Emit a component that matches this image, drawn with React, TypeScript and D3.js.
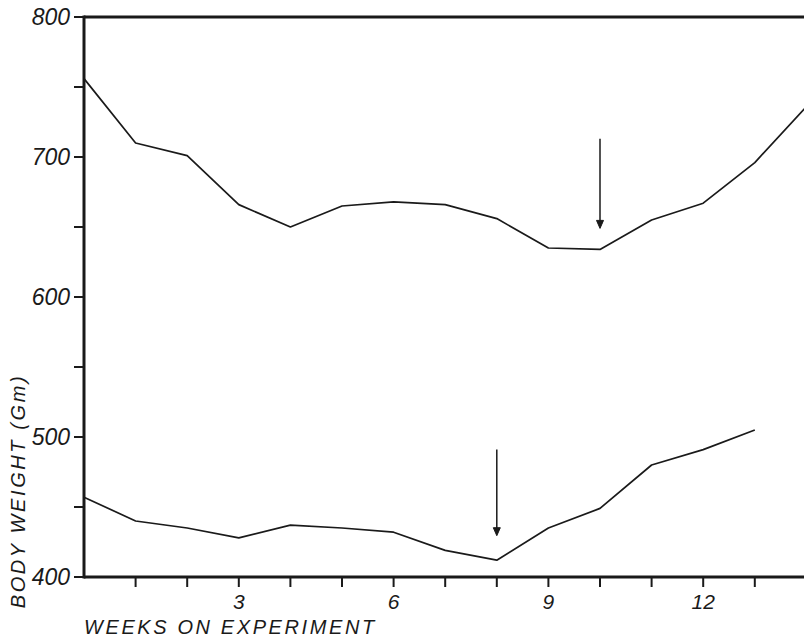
import React from "react";
import * as d3 from "d3";

const upperWeeks = [0, 1, 2, 3, 4, 5, 6, 7, 8, 9, 10, 11, 12, 13, 14];
const upperValues = [756, 710, 701, 666, 650, 665, 668, 666, 656, 635, 634, 655, 667, 696, 736];
const lowerWeeks = [0, 1, 2, 3, 4, 5, 6, 7, 8, 9, 10, 11, 12, 13];
const lowerValues = [457, 440, 435, 428, 437, 435, 432, 419, 412, 435, 449, 480, 491, 505];

const arrowWeeks = [10, 8];
const arrowFrom = [713, 491];
const arrowTo = [649, 429.5];

const yTickValues = [400, 450, 500, 550, 600, 650, 700, 750, 800];
const yTickLabels = ["400", "500", "600", "700", "800"];
const xTickValues = [1, 2, 3, 4, 5, 6, 7, 8, 9, 10, 11, 12, 13, 14];
const xTickLabels = ["3", "6", "9", "12"];

const xTitle = "WEEKS ON EXPERIMENT";
const yTitle = "BODY WEIGHT (Gm)";

export default function App() {
  const W = 804, H = 638;
  const x = d3.scaleLinear().domain([0, 14]).range([84, 806.4]);
  const y = d3.scaleLinear().domain([400, 800]).range([577, 17]);
  const line = d3.line<[number, number]>().x(d => x(d[0])).y(d => y(d[1]));
  const up: [number, number][] = upperWeeks.map((w, i) => [w, upperValues[i]]);
  const lo: [number, number][] = lowerWeeks.map((w, i) => [w, lowerValues[i]]);
  const font = "'Liberation Sans', 'DejaVu Sans', sans-serif";
  const ink = "#1a1a1a";
  return (
    <svg width={W} height={H} style={{ position: "absolute", left: 0, top: 0, background: "#fff" }}>
      {/* frame */}
      <line x1={x(0)} x2={x(14) + 5} y1={y(800)} y2={y(800)} stroke={ink} strokeWidth={3} />
      <line x1={x(0)} x2={x(0)} y1={y(800) - 1.5} y2={y(400) + 1.5} stroke={ink} strokeWidth={3} />
      <line x1={x(0)} x2={x(14) + 5} y1={y(400)} y2={y(400)} stroke={ink} strokeWidth={3} />
      {yTickValues.map(v => (
        <line key={"yt" + v} x1={x(0) - 10} x2={x(0)} y1={y(v)} y2={y(v)} stroke={ink} strokeWidth={2} />
      ))}
      {yTickLabels.map(t => (
        <text key={"yl" + t} x={x(0) - 14} y={y(+t)} dy="0.36em" textAnchor="end"
          fontFamily={font} fontStyle="italic" fontSize={23} fill={ink}>{t}</text>
      ))}
      {xTickValues.map(v => (
        <line key={"xt" + v} x1={x(v)} x2={x(v)} y1={y(400)} y2={y(400) + 10} stroke={ink} strokeWidth={2} />
      ))}
      {xTickLabels.map(t => (
        <text key={"xl" + t} x={x(+t)} y={609} textAnchor="middle"
          fontFamily={font} fontStyle="italic" fontSize={21} fill={ink}>{t}</text>
      ))}
      <text x={x(0)} y={634} fontFamily={font} fontStyle="italic" fontSize={20}
        letterSpacing={2.6} fill={ink}>{xTitle}</text>
      <text transform={`translate(25, 491) rotate(-90)`} textAnchor="middle"
        fontFamily={font} fontStyle="italic" fontSize={20} letterSpacing={2.6} fill={ink}>{yTitle}</text>
      {/* series */}
      <path d={line(up) || ""} fill="none" stroke={ink} strokeWidth={1.7} strokeLinejoin="round" />
      <path d={line(lo) || ""} fill="none" stroke={ink} strokeWidth={1.7} strokeLinejoin="round" />
      {/* arrows */}
      {arrowWeeks.map((w, i) => {
        const ax = x(w), y0 = y(arrowFrom[i]), y1 = y(arrowTo[i]);
        return (
          <g key={"ar" + i}>
            <line x1={ax} x2={ax} y1={y0} y2={y1 - 2} stroke={ink} strokeWidth={1.5} />
            <path d={`M${ax - 3.5},${y1 - 8} L${ax},${y1} L${ax + 3.5},${y1 - 8} Z`} fill={ink} stroke={ink} strokeWidth={1} strokeLinejoin="round" />
          </g>
        );
      })}
    </svg>
  );
}
